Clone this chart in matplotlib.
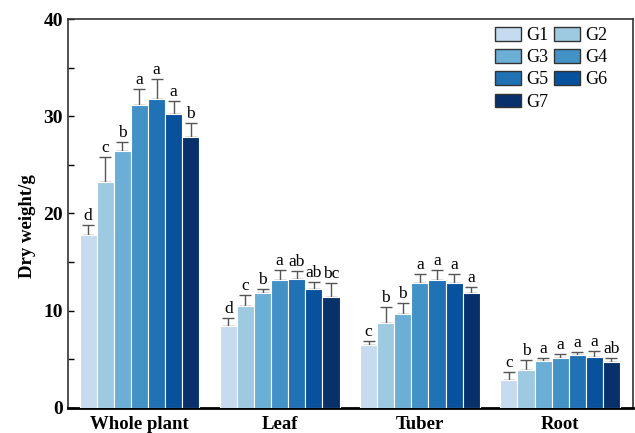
import matplotlib
matplotlib.use("Agg")
import matplotlib.pyplot as plt
import numpy as np

plt.rcParams["font.family"] = ["Liberation Serif", "DejaVu Serif"]

organs = ["Whole plant", "Leaf", "Tuber", "Root"]
groups = ["G1", "G2", "G3", "G4", "G5", "G6", "G7"]
colors = ["#c6dbef", "#9ecae1", "#6baed6", "#4292c6", "#2171b5", "#08519c", "#08306b"]

# mean dry weight per group, one list per group across organs
means = {
    "G1": [17.8, 8.4, 6.5, 2.9],
    "G2": [23.2, 10.5, 8.7, 3.9],
    "G3": [26.4, 11.8, 9.7, 4.8],
    "G4": [31.2, 13.2, 12.8, 5.1],
    "G5": [31.8, 13.3, 13.2, 5.4],
    "G6": [30.2, 12.2, 12.8, 5.2],
    "G7": [27.9, 11.4, 11.8, 4.7],
}
errors = {
    "G1": [1.0, 0.8, 0.4, 0.8],
    "G2": [2.6, 1.1, 1.7, 1.0],
    "G3": [1.0, 0.4, 1.1, 0.3],
    "G4": [1.6, 1.0, 1.0, 0.4],
    "G5": [2.0, 0.8, 1.0, 0.4],
    "G6": [1.4, 0.8, 1.0, 0.7],
    "G7": [1.4, 1.4, 0.6, 0.4],
}
letters = {
    "G1": ["d", "d", "c", "c"],
    "G2": ["c", "c", "b", "b"],
    "G3": ["b", "b", "b", "a"],
    "G4": ["a", "a", "a", "a"],
    "G5": ["a", "ab", "a", "a"],
    "G6": ["a", "ab", "a", "a"],
    "G7": ["b", "bc", "a", "ab"],
}

fig = plt.figure(figsize=(6.35, 4.33), dpi=100)
ax = fig.add_axes([0.107, 0.058, 0.89, 0.898])

x = np.arange(len(organs))
width = 0.122
handles = []
for i, g in enumerate(groups):
    pos = x + (i - 3) * width
    m = np.array(means[g])
    e = np.array(errors[g])
    b = ax.bar(pos, m, width, color=colors[i], edgecolor="white", linewidth=0.8,
               zorder=3, label=g)
    handles.append(b)
    ax.errorbar(pos, m, yerr=[np.zeros_like(e), e], fmt="none", ecolor="#555555",
                elinewidth=1.0, capsize=4.5, capthick=1.0, zorder=2)
    for p, v, err, t in zip(pos, m, e, letters[g]):
        ax.text(p, v + err + 0.1, t, ha="center", va="bottom", fontsize=12.5)

ax.set_xlim(-0.51, 3.52)
ax.set_ylim(0, 40)
ax.set_yticks([0, 10, 20, 30, 40])
ax.set_yticks([5, 15, 25, 35], minor=True)
ax.set_xticks(x)
ax.set_xticklabels(organs, fontsize=13.5, fontweight="bold")
ax.tick_params(axis="x", length=0, pad=6)
ax.tick_params(axis="y", which="both", direction="in", length=4, width=1.0,
               labelsize=14)
for lab in ax.get_yticklabels():
    lab.set_fontweight("bold")
ax.set_ylabel("Dry weight/g", fontsize=13.5, fontweight="bold")
ax.yaxis.set_label_coords(-0.056, 0.468)

for s in ["top", "right", "left"]:
    ax.spines[s].set_linewidth(1.2)
    ax.spines[s].set_color("#333333")
ax.spines["bottom"].set_linewidth(2.0)

# row-major legend: G1 G2 / G3 G4 / G5 G6 / G7
order = [0, 2, 4, 6, 1, 3, 5]
leg = ax.legend([handles[k] for k in order], [groups[k] for k in order],
                ncol=2, loc="upper right", bbox_to_anchor=(0.955, 0.98),
                frameon=False, fontsize=13, handlelength=1.45, handleheight=0.8,
                columnspacing=0.3, handletextpad=0.3, labelspacing=0.28,
                borderaxespad=0, borderpad=0)
for h in leg.legend_handles:
    h.set_edgecolor("#333333")
    h.set_linewidth(1.0)

fig.savefig("out.png", dpi=100)
